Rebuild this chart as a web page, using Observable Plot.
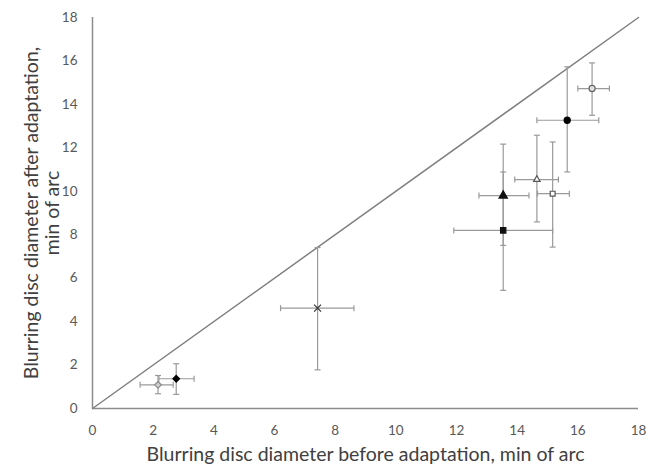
<!DOCTYPE html>
<html>
<head>
<meta charset="utf-8">
<script src="https://cdn.jsdelivr.net/npm/d3@7"></script>
<script src="https://cdn.jsdelivr.net/npm/@observablehq/plot@0.6"></script>
<style>
  html, body { margin: 0; padding: 0; background: #fff; }
</style>
</head>
<body>
<div id="chart"></div>
<script>
// Data
const xVals  = [2.16, 2.76, 7.42, 13.54, 13.54, 14.65, 15.17, 15.65, 16.47];
const yVals  = [1.09, 1.37, 4.62, 8.20, 9.80, 10.54, 9.89, 13.27, 14.73];
const xLo    = [1.57, 2.19, 6.20, 11.91, 12.74, 13.92, 14.67, 14.65, 16.00];
const xHi    = [2.66, 3.35, 8.62, 15.17, 14.39, 15.36, 15.72, 16.69, 17.04];
const yLo    = [0.68, 0.65, 1.78, 5.44, 7.51, 8.59, 7.43, 10.89, 13.50];
const yHi    = [1.52, 2.06, 7.41, 10.89, 12.17, 12.58, 12.27, 15.73, 15.91];
const symbols = ["diamond2", "diamond2", "times", "square", "triangle", "triangle2", "square2", "circle", "circle"];
const fills   = ["#cfcfcf", "#000", "none", "#111", "#111", "#fff", "#fff", "#000", "#e0e0e0"];
const strokes = ["#8a8a8a", "#000", "#333", "#111", "#111", "#555", "#555", "#000", "#666"];
const sizes   = [4.4, 4.4, 5.2, 4.5, 4.8, 4.8, 4.8, 4.7, 4.7];
const diag = [[0, 0], [18, 18]];
const ticks = [0, 2, 4, 6, 8, 10, 12, 14, 16, 18];
const xTitle = "Blurring disc diameter before adaptation, min of arc";
const yTitle = "Blurring disc diameter after adaptation,\nmin of arc";

const rows = xVals.map((x, i) => ({
  x, y: yVals[i], xlo: xLo[i], xhi: xHi[i], ylo: yLo[i], yhi: yHi[i],
  symbol: symbols[i], fill: fills[i], stroke: strokes[i], r: sizes[i]
}));

const vCap = { draw(ctx, size) { const h = 3; ctx.moveTo(0, -h); ctx.lineTo(0, h); } };
const hCap = { draw(ctx, size) { const h = 3; ctx.moveTo(-h, 0); ctx.lineTo(h, 0); } };

const errColor = "#9a9a9a";

const chart = Plot.plot({
  width: 650,
  height: 465,
  marginLeft: 92,
  marginRight: 12,
  marginTop: 17,
  marginBottom: 57,
  style: { fontFamily: "Lato, 'Open Sans', sans-serif", background: "#fff" },
  x: { domain: [0, 18], ticks: ticks, tickSize: 0, label: null },
  y: { domain: [0, 18], ticks: ticks, tickSize: 0, label: null },
  marks: [
    Plot.axisX({ ticks: ticks, tickSize: 0, tickPadding: 17, fontSize: 13.5, color: "#595959", label: null }),
    Plot.axisY({ ticks: ticks, tickSize: 0, tickPadding: 15, fontSize: 13.5, color: "#595959", label: null }),
    Plot.ruleY([0], { stroke: "#8c8c8c", strokeWidth: 1.5 }),
    Plot.ruleX([0], { stroke: "#8c8c8c", strokeWidth: 1.5 }),
    Plot.line(diag, { x: d => d[0], y: d => d[1], stroke: "#808080", strokeWidth: 1.5 }),
    // error bars
    Plot.link(rows, { x1: "xlo", x2: "xhi", y1: "y", y2: "y", stroke: errColor, strokeWidth: 1.2 }),
    Plot.link(rows, { x1: "x", x2: "x", y1: "ylo", y2: "yhi", stroke: errColor, strokeWidth: 1.2 }),
    Plot.dot(rows, { x: "xlo", y: "y", symbol: vCap, stroke: errColor, r: 3, strokeWidth: 1.2 }),
    Plot.dot(rows, { x: "xhi", y: "y", symbol: vCap, stroke: errColor, r: 3, strokeWidth: 1.2 }),
    Plot.dot(rows, { x: "x", y: "ylo", symbol: hCap, stroke: errColor, r: 3, strokeWidth: 1.2 }),
    Plot.dot(rows, { x: "x", y: "yhi", symbol: hCap, stroke: errColor, r: 3, strokeWidth: 1.2 }),
    // markers
    Plot.dot(rows, { x: "x", y: "y", symbol: "symbol", fill: "fill", stroke: "stroke", r: "r", strokeWidth: 1.2 }),
    // titles
    Plot.text([xTitle], { frameAnchor: "bottom", dy: 46, lineAnchor: "middle", text: d => d, fontSize: 19.5, fill: "#404040" }),
    Plot.text([yTitle], { frameAnchor: "left", dx: -51, rotate: -90, textAnchor: "middle", lineAnchor: "middle", text: d => d, fontSize: 19.5, fill: "#404040", lineHeight: 1.1 })
  ]
});

document.getElementById("chart").appendChild(chart);
</script>
</body>
</html>
